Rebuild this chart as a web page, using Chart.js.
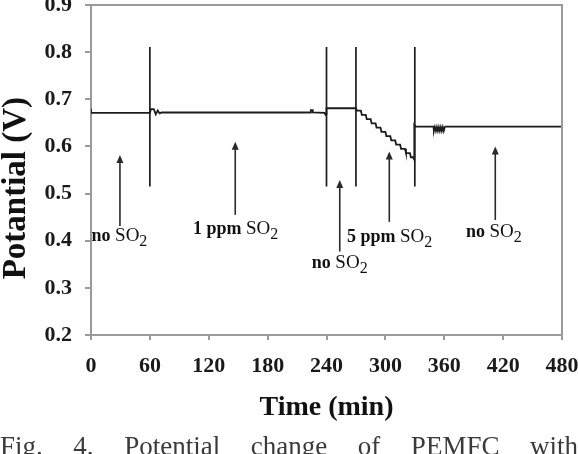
<!DOCTYPE html>
<html>
<head>
<meta charset="utf-8">
<script src="https://cdn.jsdelivr.net/npm/chart.js"></script>
<style>
  html, body { margin: 0; padding: 0; background: #fff; }
  #wrap { position: relative; width: 578px; height: 454px; overflow: hidden; }
  #box { position: absolute; left: 0; top: -30px; width: 600px; height: 484px; }
  #caption {
    position: absolute; left: 0; top: 433px; width: 578px;
    font: 27px 'Liberation Serif', 'Times New Roman', serif; line-height: 27px;
    color: #3a3a3a; text-align: justify; text-align-last: justify;
  }
</style>
</head>
<body>
<div id="wrap">
  <div id="box"><canvas id="chart"></canvas></div>
  <div id="caption">Fig. 4. Potential change of PEMFC with</div>
</div>
<script>
// cell potential trace (min, V)
const mainTime = [0, 0, 60, 61, 64, 66, 68, 70, 72, 224, 224, 226, 226, 238, 239, 240, 240, 270,
  271, 275, 276, 280, 281, 285, 286, 290, 291, 295, 296, 300, 301, 305, 306, 310, 311, 315,
  316, 320, 321, 325, 326, 328, 329.5, 329.5, 331, 349,
  349.5, 350.5, 351.5, 352.5, 353.5, 354.5, 355.5, 356.5, 357.5, 358.5, 359.5, 360.5, 361, 480];
const mainPotential = [0.680, 0.671, 0.671, 0.679, 0.679, 0.668, 0.676, 0.670, 0.672, 0.672, 0.677, 0.677, 0.672, 0.671, 0.667, 0.668, 0.681, 0.681,
  0.676, 0.676, 0.667, 0.667, 0.658, 0.658, 0.649, 0.649, 0.640, 0.640, 0.631, 0.631, 0.622, 0.622, 0.613, 0.613, 0.604, 0.604,
  0.595, 0.595, 0.586, 0.586, 0.577, 0.577, 0.572, 0.646, 0.642, 0.642,
  0.633, 0.641, 0.633, 0.641, 0.633, 0.641, 0.633, 0.641, 0.633, 0.641, 0.633, 0.641, 0.642, 0.642];

// gas switch markers
const switchTimes = [60, 240, 270, 330];
const switchRange = [0.515, 0.811];

// arrows and their labels
const noteTimes = [29.5, 147, 253.5, 304, 412];
const noteTip = [0.582, 0.61, 0.529, 0.589, 0.6];
const noteTail = [0.431, 0.455, 0.377, 0.44, 0.444];
const noteLead = ['no ', '1 ppm ', 'no ', '5 ppm ', 'no '];
const noteLabelTime = [29, 147.3, 253.5, 304.4, 410.5];
const noteLabelPotential = [0.40, 0.414, 0.342, 0.397, 0.408];

const xTicks = [0, 60, 120, 180, 240, 300, 360, 420, 480];

const serif = "'Liberation Serif', 'Times New Roman', serif";
const ink = '#1c1c1c';
const axisGray = '#9a9a9a';

const datasets = [{
  data: mainTime.map((t, i) => ({ x: t, y: mainPotential[i] })),
  borderColor: ink,
  borderWidth: 1.8,
  pointRadius: 0,
  tension: 0
}];
switchTimes.forEach(t => {
  datasets.push({
    data: switchRange.map(v => ({ x: t, y: v })),
    borderColor: ink,
    borderWidth: 1.7,
    pointRadius: 0
  });
});

const extras = {
  id: 'extras',
  afterDraw(chart) {
    const ctx = chart.ctx;
    const a = chart.chartArea;
    const xs = chart.scales.x, ys = chart.scales.y;
    ctx.save();
    // box top/right
    ctx.strokeStyle = axisGray;
    ctx.lineWidth = 2;
    ctx.beginPath();
    ctx.moveTo(a.left, a.top);
    ctx.lineTo(a.right, a.top);
    ctx.lineTo(a.right, a.bottom);
    ctx.stroke();

    // arrows
    ctx.strokeStyle = '#2a2a2a';
    ctx.fillStyle = '#2a2a2a';
    ctx.lineWidth = 1.6;
    noteTimes.forEach((t, i) => {
      const x = xs.getPixelForValue(t);
      const y1 = ys.getPixelForValue(noteTip[i]);
      const y2 = ys.getPixelForValue(noteTail[i]);
      ctx.beginPath();
      ctx.moveTo(x, y2);
      ctx.lineTo(x, y1 + 4);
      ctx.stroke();
      ctx.beginPath();
      ctx.moveTo(x, y1);
      ctx.lineTo(x - 3.5, y1 + 8);
      ctx.lineTo(x + 3.5, y1 + 8);
      ctx.closePath();
      ctx.fill();
    });

    // labels
    ctx.fillStyle = '#111';
    ctx.textBaseline = 'alphabetic';
    ctx.textAlign = 'left';
    noteLead.forEach((lead, i) => {
      const fLead = 'bold 18px ' + serif, fSo = '19px ' + serif, fSub = '16px ' + serif;
      ctx.font = fLead; const w1 = ctx.measureText(lead).width;
      ctx.font = fSo; const w2 = ctx.measureText('SO').width;
      ctx.font = fSub; const w3 = ctx.measureText('2').width;
      const cx = xs.getPixelForValue(noteLabelTime[i]);
      const by = ys.getPixelForValue(noteLabelPotential[i]);
      let x = cx - (w1 + w2 + w3) / 2;
      ctx.font = fLead; ctx.fillText(lead, x, by); x += w1;
      ctx.font = fSo; ctx.fillText('SO', x, by); x += w2;
      ctx.font = fSub; ctx.fillText('2', x, by + 5);
    });

    // y axis title
    ctx.translate(16, a.top + (a.bottom - a.top) * 0.555);
    ctx.rotate(-Math.PI / 2);
    ctx.font = 'bold 33px ' + serif;
    ctx.textAlign = 'center';
    ctx.textBaseline = 'middle';
    ctx.fillStyle = '#111';
    ctx.fillText('Potantial (V)', 0, 0);
    ctx.restore();
  }
};

new Chart(document.getElementById('chart'), {
  type: 'line',
  data: { datasets: datasets },
  options: {
    responsive: true,
    maintainAspectRatio: false,
    animation: false,
    events: [],
    layout: { padding: { left: 0, top: 35, right: 38, bottom: 29 } },
    plugins: { legend: { display: false }, tooltip: { enabled: false } },
    scales: {
      x: {
        type: 'linear',
        min: 0,
        max: 480,
        afterBuildTicks: s => { s.ticks = xTicks.map(v => ({ value: v })); },
        afterFit: s => { s.height = 90; },
        grid: { display: true, drawOnChartArea: false, drawTicks: true, tickLength: 5, color: axisGray, lineWidth: 2 },
        border: { display: true, color: axisGray, width: 2 },
        ticks: { padding: 13, color: '#1a1a1a', font: { family: serif, size: 22, weight: 'bold' }, maxRotation: 0 },
        title: { display: true, text: 'Time (min)', color: '#111', font: { family: serif, size: 28, weight: 'bold' }, padding: { top: 0, bottom: 0 } }
      },
      y: {
        min: 0.2,
        max: 0.9,
        afterFit: s => { s.width = 91; },
        grid: { display: true, drawOnChartArea: false, drawTicks: true, tickLength: 6, color: axisGray, lineWidth: 2 },
        border: { display: true, color: axisGray, width: 2 },
        ticks: { stepSize: 0.1, padding: 13, color: '#1a1a1a', font: { family: serif, size: 22, weight: 'bold' }, callback: v => v.toFixed(1) }
      }
    }
  },
  plugins: [extras]
});
</script>
</body>
</html>
